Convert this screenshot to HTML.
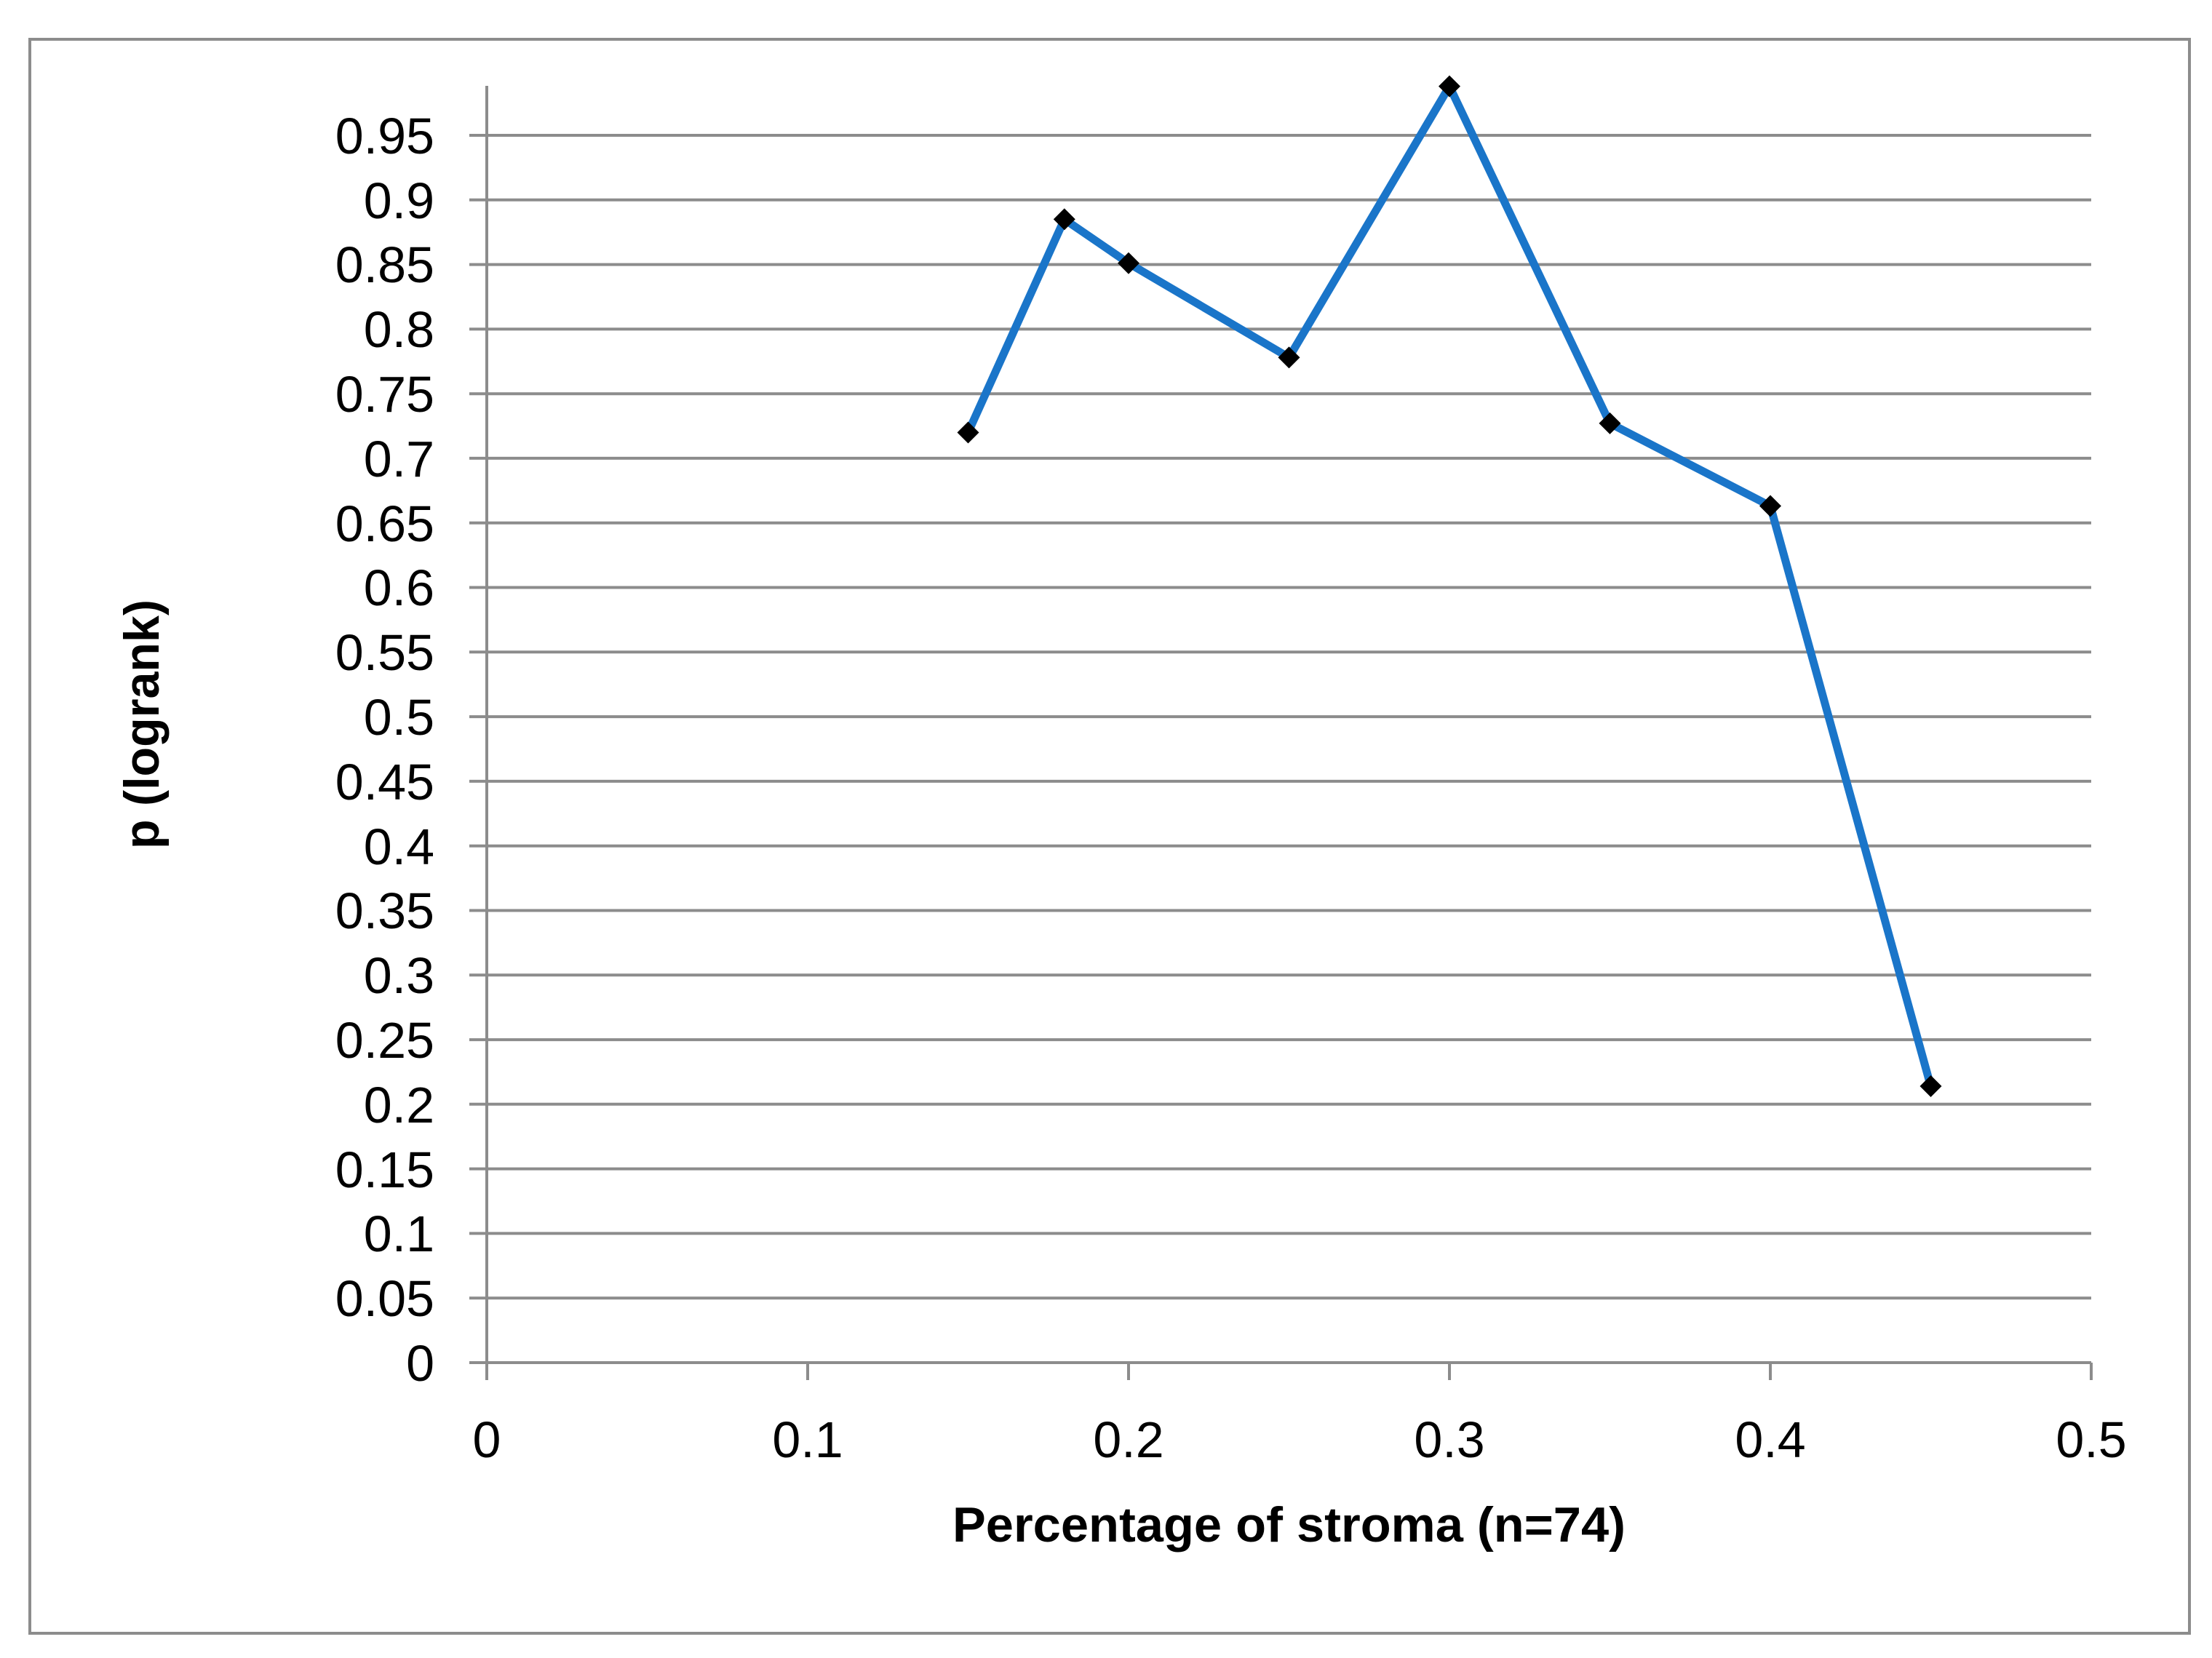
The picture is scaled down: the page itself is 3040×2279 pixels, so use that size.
<!DOCTYPE html>
<html><head><meta charset="utf-8"><style>html,body{margin:0;padding:0;background:#fff}svg{display:block}</style></head>
<body>
<svg width="3040" height="2279" xmlns="http://www.w3.org/2000/svg" font-family="'Liberation Sans', sans-serif">
<rect x="0" y="0" width="3040" height="2279" fill="#fff"/>
<rect x="41" y="54" width="2968" height="2191" fill="none" stroke="#8c8c8c" stroke-width="4"/>
<g stroke="#8c8c8c" stroke-width="4">
<line x1="669" y1="118" x2="669" y2="1897"/>
<line x1="645" y1="1873" x2="2874" y2="1873"/>
<line x1="645" y1="1784.2" x2="2874" y2="1784.2"/>
<line x1="645" y1="1695.4" x2="2874" y2="1695.4"/>
<line x1="645" y1="1606.6" x2="2874" y2="1606.6"/>
<line x1="645" y1="1517.8" x2="2874" y2="1517.8"/>
<line x1="645" y1="1429.1" x2="2874" y2="1429.1"/>
<line x1="645" y1="1340.3" x2="2874" y2="1340.3"/>
<line x1="645" y1="1251.5" x2="2874" y2="1251.5"/>
<line x1="645" y1="1162.7" x2="2874" y2="1162.7"/>
<line x1="645" y1="1073.9" x2="2874" y2="1073.9"/>
<line x1="645" y1="985.1" x2="2874" y2="985.1"/>
<line x1="645" y1="896.3" x2="2874" y2="896.3"/>
<line x1="645" y1="807.5" x2="2874" y2="807.5"/>
<line x1="645" y1="718.7" x2="2874" y2="718.7"/>
<line x1="645" y1="629.9" x2="2874" y2="629.9"/>
<line x1="645" y1="541.2" x2="2874" y2="541.2"/>
<line x1="645" y1="452.4" x2="2874" y2="452.4"/>
<line x1="645" y1="363.6" x2="2874" y2="363.6"/>
<line x1="645" y1="274.8" x2="2874" y2="274.8"/>
<line x1="645" y1="186" x2="2874" y2="186"/>
<line x1="1110" y1="1873" x2="1110" y2="1897"/>
<line x1="1551" y1="1873" x2="1551" y2="1897"/>
<line x1="1992" y1="1873" x2="1992" y2="1897"/>
<line x1="2433" y1="1873" x2="2433" y2="1897"/>
<line x1="2874" y1="1873" x2="2874" y2="1897"/>
</g>
<g font-size="70" fill="#000" text-anchor="end">
<text x="597" y="1898">0</text>
<text x="597" y="1809">0.05</text>
<text x="597" y="1720">0.1</text>
<text x="597" y="1632">0.15</text>
<text x="597" y="1543">0.2</text>
<text x="597" y="1454">0.25</text>
<text x="597" y="1365">0.3</text>
<text x="597" y="1276">0.35</text>
<text x="597" y="1188">0.4</text>
<text x="597" y="1099">0.45</text>
<text x="597" y="1010">0.5</text>
<text x="597" y="921">0.55</text>
<text x="597" y="832">0.6</text>
<text x="597" y="744">0.65</text>
<text x="597" y="655">0.7</text>
<text x="597" y="566">0.75</text>
<text x="597" y="477">0.8</text>
<text x="597" y="388">0.85</text>
<text x="597" y="300">0.9</text>
<text x="597" y="211">0.95</text>
</g>
<g font-size="70" fill="#000" text-anchor="middle">
<text x="669" y="2003">0</text>
<text x="1110" y="2003">0.1</text>
<text x="1551" y="2003">0.2</text>
<text x="1992" y="2003">0.3</text>
<text x="2433" y="2003">0.4</text>
<text x="2874" y="2003">0.5</text>
</g>
<text x="1309" y="2119" font-size="68" font-weight="bold" textLength="925" lengthAdjust="spacingAndGlyphs">Percentage of stroma (n=74)</text>
<text transform="translate(218,1167) rotate(-90)" font-size="68" font-weight="bold" textLength="343" lengthAdjust="spacingAndGlyphs">p (logrank)</text>
<polyline fill="none" stroke="#1a75c9" stroke-width="11" stroke-linejoin="round"
points="1330.5,594.5 1462.8,301.4 1551,361.8 1771.5,491.4 1992,118.6 2212.5,581.9 2433,695.5 2653.5,1493"/>
<g fill="#000">
<path d="M1330.5,579.5 l15,15 l-15,15 l-15,-15z"/>
<path d="M1462.8,286.4 l15,15 l-15,15 l-15,-15z"/>
<path d="M1551,346.8 l15,15 l-15,15 l-15,-15z"/>
<path d="M1771.5,476.4 l15,15 l-15,15 l-15,-15z"/>
<path d="M1992,103.6 l15,15 l-15,15 l-15,-15z"/>
<path d="M2212.5,566.9 l15,15 l-15,15 l-15,-15z"/>
<path d="M2433,680.5 l15,15 l-15,15 l-15,-15z"/>
<path d="M2653.5,1478 l15,15 l-15,15 l-15,-15z"/>
</g>
</svg>
</body></html>
